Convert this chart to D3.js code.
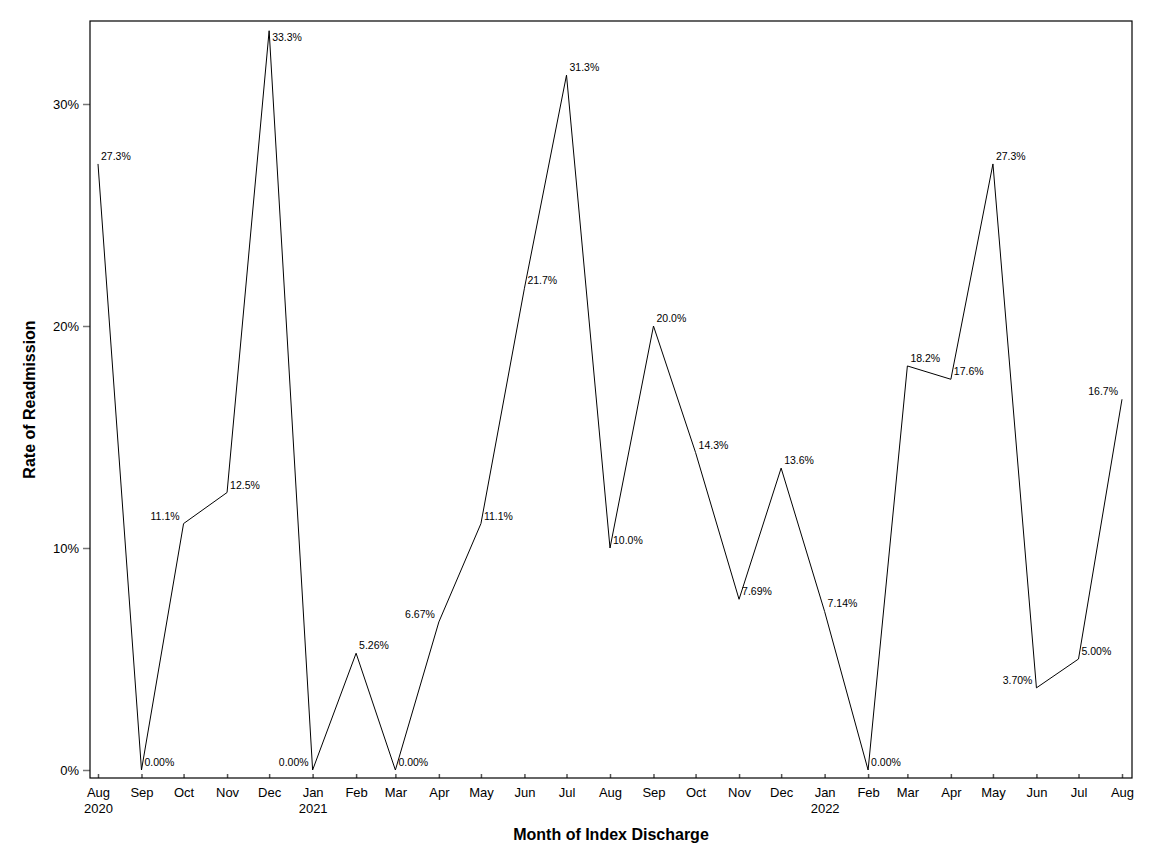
<!DOCTYPE html>
<html>
<head>
<meta charset="utf-8">
<script src="https://cdn.jsdelivr.net/npm/d3@7"></script>
<style>
  body { margin: 0; background: #fff; }
  svg { display: block; font-family: "Liberation Sans", Arial, sans-serif; }
</style>
</head>
<body>
<div id="chart"></div>
<script>
// Datos: mes de alta índice y tasa de readmisión
const months = ["2020-08", "2020-09", "2020-10", "2020-11", "2020-12",
  "2021-01", "2021-02", "2021-03", "2021-04", "2021-05", "2021-06", "2021-07",
  "2021-08", "2021-09", "2021-10", "2021-11", "2021-12",
  "2022-01", "2022-02", "2022-03", "2022-04", "2022-05", "2022-06", "2022-07", "2022-08"];
const rates = [0.273, 0, 0.111, 0.125, 0.333,
  0, 0.0526, 0, 0.0667, 0.111, 0.217, 0.313,
  0.100, 0.200, 0.143, 0.0769, 0.136,
  0.0714, 0, 0.182, 0.176, 0.273, 0.037, 0.050, 0.167];
const rateLabels = ["27.3%", "0.00%", "11.1%", "12.5%", "33.3%",
  "0.00%", "5.26%", "0.00%", "6.67%", "11.1%", "21.7%", "31.3%",
  "10.0%", "20.0%", "14.3%", "7.69%", "13.6%",
  "7.14%", "0.00%", "18.2%", "17.6%", "27.3%", "3.70%", "5.00%", "16.7%"];
// lado de la etiqueta: TR arriba-derecha, TL arriba-izquierda, BR abajo-derecha
const labelSide = ["TR", "TR", "TL", "TR", "BR",
  "TL", "TR", "TR", "TL", "TR", "TR", "TR",
  "TR", "TR", "TR", "TR", "TR",
  "TR", "TR", "TR", "TR", "TR", "TL", "TR", "TL"];
const yTicks = [0, 0.1, 0.2, 0.3];

const width = 1152;
const height = 864;
const margin = { top: 21, right: 20, bottom: 86, left: 90 };

const parse = d3.utcParse("%Y-%m");
const data = months.map((m, i) => ({ date: parse(m), value: rates[i], label: rateLabels[i], side: labelSide[i] }));

const svg = d3.select("#chart").append("svg")
    .attr("width", width)
    .attr("height", height)
    .attr("viewBox", [0, 0, width, height]);

const xScale = d3.scaleUtc(d3.extent(data, d => d.date), [margin.left + 8, width - margin.right - 10]);
const yScale = d3.scaleLinear([0, 0.3], [height - margin.bottom - 8, 104]);

// Ejes
const monthFmt = d3.utcFormat("%b");
const xAxis = d3.axisBottom(xScale)
    .tickValues(data.map(d => d.date))
    .tickSize(-4)
    .tickSizeOuter(0)
    .tickFormat("");

const gx = svg.append("g")
    .attr("transform", `translate(0,${height - margin.bottom})`)
    .call(xAxis)
    .call(g => g.select(".domain").remove())
    .call(g => g.selectAll(".tick line").attr("stroke", "#555").attr("stroke-width", 1.5));

gx.selectAll(".tick").append("text")
    .attr("fill", "#000")
    .attr("font-size", 13)
    .attr("text-anchor", "middle")
    .each(function (d, i) {
        const t = d3.select(this);
        t.append("tspan").attr("x", 0).attr("y", 19).text(monthFmt(d));
        if (i === 0 || d.getUTCMonth() === 0) {
            t.append("tspan").attr("x", 0).attr("y", 35).text(d.getUTCFullYear());
        }
    });

svg.append("g")
    .attr("transform", `translate(${margin.left},0)`)
    .call(d3.axisLeft(yScale).tickValues(yTicks).tickSize(7).tickPadding(4).tickFormat(d3.format(".0%")))
    .call(g => g.select(".domain").remove())
    .call(g => g.selectAll(".tick line").attr("stroke", "#777").attr("stroke-width", 1.5))
    .call(g => g.selectAll(".tick text").attr("fill", "#000").attr("font-size", 13)
        .attr("font-family", "'Liberation Sans', Arial, sans-serif"));

// Marco
svg.append("rect")
    .attr("x", margin.left)
    .attr("y", margin.top)
    .attr("width", width - margin.left - margin.right)
    .attr("height", height - margin.top - margin.bottom)
    .attr("fill", "none")
    .attr("stroke", "#000")
    .attr("stroke-width", 1.2);

// Línea
const line = d3.line()
    .x(d => xScale(d.date))
    .y(d => yScale(d.value));

svg.append("path")
    .attr("fill", "none")
    .attr("stroke", "#000")
    .attr("stroke-width", 1)
    .attr("d", line(data));

// Etiquetas de valores
svg.append("g")
    .attr("font-size", 10.5)
    .selectAll("text")
    .data(data)
    .join("text")
    .attr("x", d => xScale(d.date) + (d.side === "TL" ? -4 : 3))
    .attr("y", d => yScale(d.value) + (d.side === "BR" ? 10 : -4))
    .attr("text-anchor", d => d.side === "TL" ? "end" : "start")
    .attr("fill", "#000")
    .text(d => d.label);

// Títulos de ejes
svg.append("text")
    .attr("x", (margin.left + width - margin.right) / 2)
    .attr("y", 840)
    .attr("text-anchor", "middle")
    .attr("font-size", 16)
    .attr("font-weight", "bold")
    .text("Month of Index Discharge");

svg.append("text")
    .attr("transform", `translate(35,${(margin.top + height - margin.bottom) / 2}) rotate(-90)`)
    .attr("text-anchor", "middle")
    .attr("font-size", 16)
    .attr("font-weight", "bold")
    .text("Rate of Readmission");
</script>
</body>
</html>
